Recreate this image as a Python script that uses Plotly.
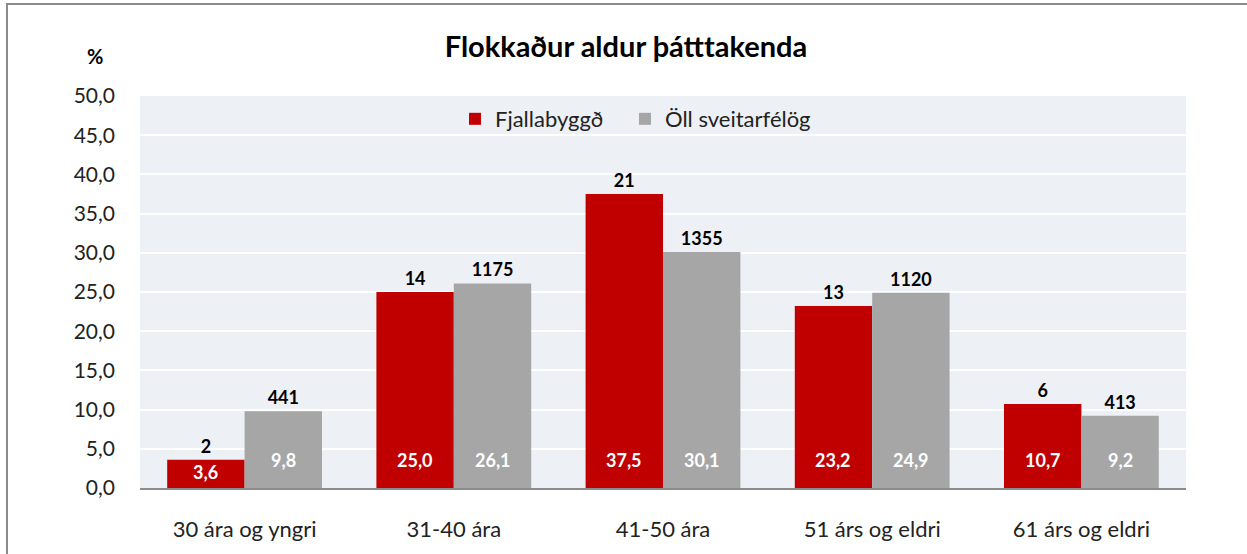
import plotly.graph_objects as go

categories = ["30 ára og yngri", "31-40 ára", "41-50 ára", "51 árs og eldri", "61 árs og eldri"]
fjalla_pct = [3.6, 25.0, 37.5, 23.2, 10.7]
fjalla_n = [2, 14, 21, 13, 6]
oll_pct = [9.8, 26.1, 30.1, 24.9, 9.2]
oll_n = [441, 1175, 1355, 1120, 413]
series_names = ["Fjallabyggð", "Öll sveitarfélög"]
y_ticks = [0, 5, 10, 15, 20, 25, 30, 35, 40, 45, 50]

RED = "#C00000"
GRAY = "#A6A6A6"
FONT = "Lato, Open Sans, sans-serif"

W, H = 1247, 554
L, R, T, B = 140, 61, 96, 66
plot_h = H - T - B
pw = W - L - R
px_per_unit = plot_h / 50.0

fig = go.Figure()
for name, pct, cnt, col, lg in [(series_names[0], fjalla_pct, fjalla_n, RED, "legend"),
                                (series_names[1], oll_pct, oll_n, GRAY, "legend2")]:
    fig.add_trace(go.Bar(
        x=categories, y=pct, name=name, marker=dict(color=col, line=dict(width=0)),
        text=[str(c) for c in cnt], textposition="outside", cliponaxis=False,
        textfont=dict(family=FONT, size=18, color="black", weight="bold"),
        hoverinfo="skip", legend=lg,
    ))

annotations = []
bar_px = pw / 5 * 0.74 / 2
for pct, shift in [(fjalla_pct, -bar_px / 2), (oll_pct, bar_px / 2)]:
    for cat, v in zip(categories, pct):
        h = v * px_per_unit
        ys = min(15, h / 2 - 11)
        annotations.append(dict(
            x=cat, y=0, xref="x", yref="y", xshift=shift, yshift=ys,
            yanchor="bottom", showarrow=False,
            text=f"{v:.1f}".replace(".", ","),
            font=dict(family=FONT, size=18, color="white", weight="bold"),
        ))

annotations.append(dict(x=-(L - 95) / pw, y=1 + (T - 56) / plot_h,
                        xref="paper", yref="paper", showarrow=False, text="<b>%</b>",
                        xanchor="center", yanchor="middle",
                        font=dict(family=FONT, size=20, color="black")))

legend_common = dict(orientation="h", xanchor="left",
                     y=1 - (119 - T) / plot_h, yanchor="middle",
                     bgcolor="rgba(0,0,0,0)", font=dict(family=FONT, size=22, color="#222"))

fig.update_layout(
    width=W, height=H,
    margin=dict(l=L, r=R, t=T, b=B, autoexpand=False),
    paper_bgcolor="white", plot_bgcolor="#EDF0F5",
    barmode="group", bargap=0.26, bargroupgap=0,
    separators=", ",
    title=dict(text="<b>Flokkaður aldur þátttakenda</b>", x=626 / W, xanchor="center",
               y=1 - 47 / H, yanchor="middle",
               font=dict(family=FONT, size=29, color="black")),
    legend=dict(x=(455 - L) / pw, **legend_common),
    legend2=dict(x=(625 - L) / pw, **legend_common),
    showlegend=True,
    font=dict(family=FONT, color="black"),
    annotations=annotations,
)

fig.update_yaxes(range=[0, 50], tickvals=y_ticks, tickformat=".1f",
                 gridcolor="white", gridwidth=2, zeroline=False, automargin=False,
                 ticklabelstandoff=24, tickfont=dict(family=FONT, size=21, color="#222"),
                 showline=False)
fig.update_xaxes(showline=True, linecolor="#8C8C8C", linewidth=2, automargin=False,
                 ticklabelstandoff=21, tickfont=dict(family=FONT, size=22, color="#222"))

fig.add_shape(type="rect", xref="paper", yref="paper",
              x0=-(L - 7) / pw, x1=1 + (R + 10) / pw,
              y0=-(B + 10) / plot_h, y1=1 + (T - 4) / plot_h,
              line=dict(color="#8C8C8C", width=2), fillcolor="rgba(0,0,0,0)", layer="below")

fig.write_html("out.html", config={"displayModeBar": False},
               post_script="document.body.style.margin='0px';")
